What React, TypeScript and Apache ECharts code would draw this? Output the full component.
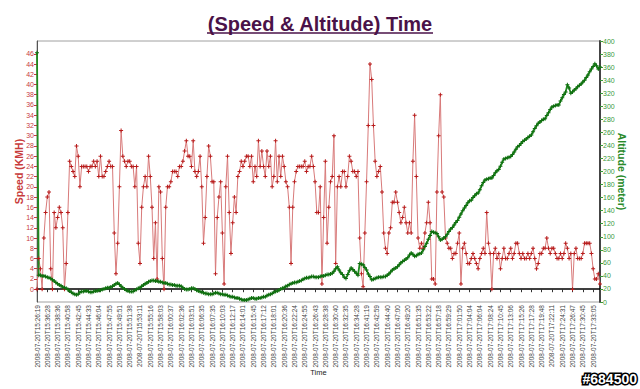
import React, { useEffect, useRef } from "react";
import * as echarts from "echarts";

const timeLabels = [
  "2008-07-20T15:26:19", "2008-07-20T15:36:28", "2008-07-20T15:38:36", "2008-07-20T15:40:58",
  "2008-07-20T15:42:45", "2008-07-20T15:44:33", "2008-07-20T15:46:04", "2008-07-20T15:47:55",
  "2008-07-20T15:49:51", "2008-07-20T15:51:38", "2008-07-20T15:53:11", "2008-07-20T15:55:16",
  "2008-07-20T15:58:03", "2008-07-20T16:00:37", "2008-07-20T16:02:36", "2008-07-20T16:03:51",
  "2008-07-20T16:06:35", "2008-07-20T16:07:35", "2008-07-20T16:10:03", "2008-07-20T16:12:17",
  "2008-07-20T16:14:01", "2008-07-20T16:15:45", "2008-07-20T16:17:12", "2008-07-20T16:18:01",
  "2008-07-20T16:20:36", "2008-07-20T16:22:24", "2008-07-20T16:24:55", "2008-07-20T16:26:43",
  "2008-07-20T16:28:38", "2008-07-20T16:30:40", "2008-07-20T16:32:35", "2008-07-20T16:34:28",
  "2008-07-20T16:41:19", "2008-07-20T16:42:59", "2008-07-20T16:44:40", "2008-07-20T16:47:00",
  "2008-07-20T16:49:20", "2008-07-20T16:51:35", "2008-07-20T16:53:22", "2008-07-20T16:57:18",
  "2008-07-20T16:59:29", "2008-07-20T17:01:50", "2008-07-20T17:04:04", "2008-07-20T17:06:04",
  "2008-07-20T17:08:24", "2008-07-20T17:10:45", "2008-07-20T17:13:06", "2008-07-20T17:15:26",
  "2008-07-20T17:17:28", "2008-07-20T17:19:48", "2008-07-20T17:22:11", "2008-07-20T17:24:31",
  "2008-07-20T17:26:47", "2008-07-20T17:30:45", "2008-07-20T17:33:05",
];

const speedTicks = [0, 2, 4, 6, 8, 10, 12, 14, 16, 18, 20, 22, 24, 26, 28, 30, 32, 34, 36, 38, 40, 42, 44, 46];

const speed = [
  0, 6, 4, 0, 10, 15, 18, 19, 4, 0, 15, 12, 14, 16, 15, 12, 0, 5, 15, 25, 24, 23, 22, 28, 26,
  20, 24, 24, 24, 24, 23, 24, 24, 25, 24,
  25, 22, 26, 22, 22, 23, 24, 25, 24, 24,
  11, 3, 9, 20, 31, 26, 25, 24, 25, 25,
  24, 24, 20, 24, 9, 5, 16, 20, 22, 20,
  26, 22, 16, 6, 13, 2, 20, 19, 6, 0,
  16, 20, 20, 21, 23, 23, 23, 22, 24, 24,
  25, 27, 29, 26, 26, 24, 29, 23, 22, 23,
  26, 20, 9, 14, 22, 28, 26, 21, 21, 3,
  14, 18, 21, 11, 1, 20, 26, 15, 7, 13,
  18, 15, 22,
  23, 25, 24, 25, 26, 26, 24, 26, 21, 24,
  22, 29, 24, 27, 24, 22, 27, 24, 26, 20,
  22, 29, 21, 26, 22, 26, 24, 21, 20, 16,
  5, 16, 21, 23, 24, 24, 24, 24, 25, 23,
  24, 24, 26, 24, 21, 15, 15, 20, 1, 14,
  25, 9, 16, 21, 22, 30, 5, 20, 22, 20,
  23, 23, 20, 22, 26, 25, 23, 23, 22, 23,
  10, 3, 0.5, 11, 21, 32, 44, 41, 32, 25,
  22, 23, 24, 19, 11, 8, 7, 11, 12, 17,
  17, 19,
  17, 15, 13, 14, 16, 13, 11, 13, 11, 25,
  34, 22, 10, 8, 9, 8, 11, 13, 17, 13,
  2, 2, 1, 19, 30, 38, 19, 18, 10, 9,
  8, 8, 6, 7, 7, 9, 11, 1, 8, 9,
  7, 5, 5, 6, 7, 6, 5, 4, 6, 7,
  8, 7, 15, 9, 7, 0, 7, 8, 6, 7,
  4, 6, 8, 6, 6, 7, 8, 6, 7, 9,
  9, 7, 6, 7, 6, 6, 7, 6, 7, 8,
  6, 4, 5, 7, 7, 8, 8, 10, 8, 7,
  8, 8, 7, 6, 6, 7, 6, 7, 9, 8,
  6, 7, 0, 7, 8, 6, 6, 6, 7, 9,
  9, 9, 9, 7, 4, 2, 2, 3, 1,
];

const altitude = [
  382,
  41, 41, 40, 40, 39,
  38, 37, 36, 34,
  32, 30, 28, 26,
  25, 23, 22, 21,
  19, 17, 15, 13,
  12, 11, 12,
  15, 16, 16, 17,
  17, 16, 15, 15,
  16, 17, 17, 18,
  18, 19, 20, 21,
  22, 22, 23, 24,
  26, 28, 29, 27,
  24, 22, 20, 18,
  17, 16, 16, 16,
  18, 19, 21, 22,
  24, 26, 28, 29,
  31, 32, 33, 33,
  32, 32, 31, 31,
  30, 29, 29, 28,
  27, 27, 26, 26,
  25, 25, 25, 24,
  22, 20, 19, 19,
  20, 21, 21, 20,
  18, 17, 16, 15,
  14, 13, 13, 12,
  12, 12, 13, 14,
  14, 13, 12, 12,
  11, 11, 10, 9,
  8, 8, 7, 6,
  6, 5, 4, 3,
  3, 3, 4, 5,
  6, 6, 5, 5,
  6, 6, 7, 8,
  8, 10, 11, 12,
  13, 15, 16, 17,
  18, 20, 21, 22,
  24, 25, 27, 28,
  29, 30, 30, 31,
  32, 33, 35, 36,
  37, 37, 38, 39,
  39, 38, 38, 38,
  39, 40, 40, 41,
  42, 42, 43, 44,
  47, 51, 54, 49,
  45, 42, 38, 36,
  42, 48, 52, 50,
  47, 44, 41, 59,
  58, 57, 53, 49,
  43, 39, 34, 35,
  36, 37, 38, 38,
  38, 39, 39, 41,
  43, 46, 49, 51,
  52, 54, 57, 60,
  62, 64, 66, 68,
  72, 75, 73, 70,
  71, 73, 74, 75,
  80, 85, 90, 96,
  102, 108, 107, 106,
  105, 100, 95, 96,
  98, 100, 104, 108,
  112, 114, 118, 122,
  125, 130, 135, 140,
  144, 148, 152, 155,
  156, 160, 163, 166,
  167, 172, 178, 183,
  187, 188, 189, 190,
  190, 194, 198, 201,
  203, 208, 214, 219,
  220, 221, 222, 223,
  226, 230, 234, 238,
  240, 243, 246, 248,
  250, 252, 254, 256,
  261, 266, 270, 274,
  276, 278, 280, 281,
  286, 290, 295, 299,
  300, 301, 302, 302,
  308, 313, 318, 322,
  333, 328, 320, 322,
  325, 327, 330, 332,
  334, 337, 340, 344,
  348, 353, 357, 361,
  365, 362, 357, 360,
];

const LABEL_STEP = 6;
const FONT = "'Liberation Sans', Arial, sans-serif";
const PLUS = "path://M3,0h2v3h3v2h-3v3h-2v-3h-3v-2h3z";
const WATERMARK_FONT = "bold 14px 'Liberation Sans', Arial, sans-serif";

export default function App() {
  const ref = useRef<HTMLDivElement>(null);

  useEffect(() => {
    if (!ref.current) return;
    const chart = echarts.init(ref.current, null, { renderer: "svg" });
    const n = Math.max(speed.length, altitude.length);
    const categories = Array.from({ length: n }, (_, i) => String(i));

    chart.setOption({
      animation: false,
      backgroundColor: "#ffffff",
      textStyle: { fontFamily: FONT },
      title: {
        text: "(Speed & Altitude) Time",
        left: "center",
        top: 9,
        textStyle: { fontSize: 20, fontWeight: "bold", color: "#4a1248", fontFamily: FONT },
      },
      graphic: [
        {
          type: "line",
          shape: { x1: 207, y1: 33, x2: 433, y2: 33 },
          style: { stroke: "#4a1248", lineWidth: 1.5 },
        },
        {
          type: "text",
          x: 637,
          y: 386,
          style: {
            text: "#684500",
            font: WATERMARK_FONT,
            align: "right",
            verticalAlign: "bottom",
            fill: "#000000",
            stroke: "#000000",
            lineWidth: 3,
          },
        },
        {
          type: "text",
          x: 637,
          y: 386,
          style: {
            text: "#684500",
            font: WATERMARK_FONT,
            align: "right",
            verticalAlign: "bottom",
            fill: "#ffffff",
          },
        },
      ],
      grid: {
        left: 37,
        top: 41,
        width: 563,
        height: 261,
        show: true,
        borderColor: "#a0a0a0",
        borderWidth: 1,
        backgroundColor: "transparent",
      },
      xAxis: {
        type: "category",
        data: categories,
        boundaryGap: false,
        axisLine: { lineStyle: { color: "#000000", width: 1.5 } },
        axisTick: { interval: LABEL_STEP - 1, length: 3, lineStyle: { color: "#333" } },
        axisLabel: {
          interval: LABEL_STEP - 1,
          rotate: 90,
          fontSize: 6.5,
          color: "#444444",
          margin: 3,
          formatter: (_v: string, i: number) => timeLabels[i / LABEL_STEP] ?? "",
        },
        splitLine: { show: false },
        name: "Time",
        nameLocation: "middle",
        nameGap: 66,
        nameMoveOverlap: false,
        nameTextStyle: { fontSize: 7.5, color: "#222222" },
      },
      yAxis: [
        {
          type: "value",
          position: "left",
          min: -2.5,
          max: 48.5,
          axisLine: { show: true, lineStyle: { color: "#555555", width: 1 } },
          axisTick: { show: true, customValues: speedTicks, length: 3, lineStyle: { color: "#c83c3c" } },
          axisLabel: { customValues: speedTicks, fontSize: 7, color: "#c83c3c", margin: 3 },
          splitLine: { show: false },
          name: "Speed (KMH)",
          nameLocation: "middle",
          nameRotate: 90,
          nameGap: 13,
          nameMoveOverlap: false,
          nameTextStyle: { fontSize: 10.5, fontWeight: "bold", color: "#c83c3c" },
        },
        {
          type: "value",
          position: "right",
          min: 0,
          max: 400,
          interval: 20,
          axisLine: { show: true, lineStyle: { color: "#444444", width: 2 } },
          axisTick: { show: true, length: 3, lineStyle: { color: "#3a9a3a" } },
          axisLabel: { fontSize: 7, color: "#3a9a3a", margin: 3 },
          splitLine: { show: false },
          name: "Altitude (meter)",
          nameLocation: "middle",
          nameRotate: -90,
          nameGap: 16,
          nameMoveOverlap: false,
          nameTextStyle: { fontSize: 10.5, fontWeight: "bold", color: "#2a8a2a" },
        },
      ],
      series: [
        {
          name: "Speed",
          type: "line",
          yAxisIndex: 0,
          data: speed,
          showAllSymbol: true,
          symbol: PLUS,
          symbolSize: 4,
          lineStyle: { color: "#d87a7a", width: 1 },
          itemStyle: { color: "#b81c1c" },
        },
        {
          name: "Altitude",
          type: "line",
          yAxisIndex: 1,
          data: altitude,
          showAllSymbol: true,
          symbol: PLUS,
          symbolSize: 4,
          lineStyle: { color: "#1f8a1f", width: 1.8 },
          itemStyle: { color: "#0f6e0f" },
        },
      ],
    });

    return () => chart.dispose();
  }, []);

  return (
    <div
      ref={ref}
      style={{ position: "fixed", left: 0, top: 0, width: 640, height: 389, background: "#fff" }}
    />
  );
}
